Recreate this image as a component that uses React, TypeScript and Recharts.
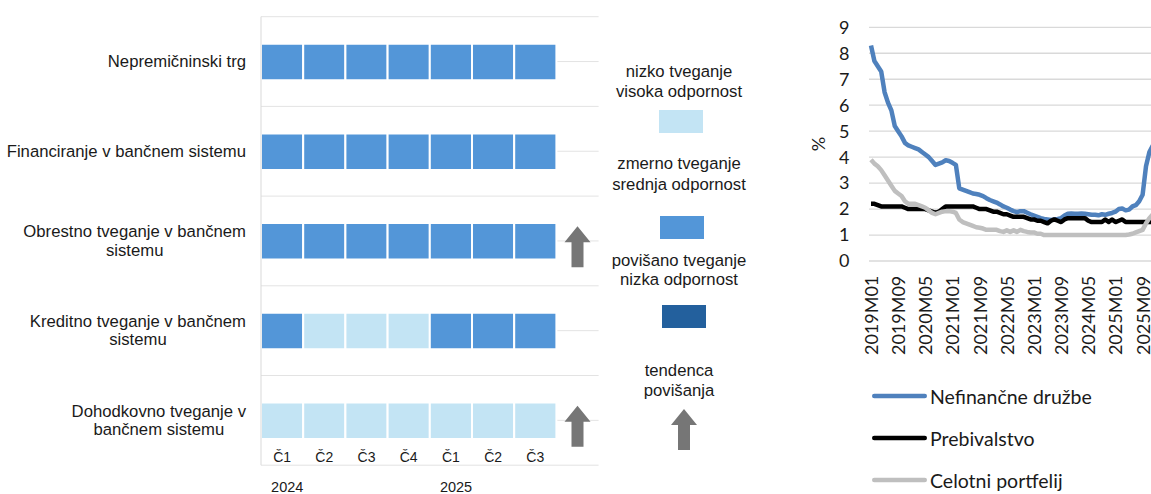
import React from 'react'
import { BarChart, Bar, Cell, XAxis, YAxis, CartesianGrid, Legend, LineChart, Line } from 'recharts'

// ---- heatmap (risk matrix) ----
const rowLabels = [
  'Nepremičninski trg',
  'Financiranje v bančnem sistemu',
  'Obrestno tveganje v bančnem\nsistemu',
  'Kreditno tveganje v bančnem\nsistemu',
  'Dohodkovno tveganje v\nbančnem sistemu',
]
const quarterLabels = ['Č1', 'Č2', 'Č3', 'Č4', 'Č1', 'Č2', 'Č3']
const yearLabels = ['2024', '2025']
const yearStartQuarter = [0, 4]
// 0 = nizko, 1 = zmerno, 2 = povišano tveganje
const riskLevels = [
  [1, 1, 1, 1, 1, 1, 1],
  [1, 1, 1, 1, 1, 1, 1],
  [1, 1, 1, 1, 1, 1, 1],
  [1, 0, 0, 0, 1, 1, 1],
  [0, 0, 0, 0, 0, 0, 0],
]
const risingTrend = [false, false, true, false, true]
const levelLabels = ['nizko tveganje\nvisoka odpornost', 'zmerno tveganje\nsrednja odpornost', 'povišano tveganje\nnizka odpornost']
const trendLabel = 'tendenca\npovišanja'
const levelColors = ['#C3E4F4', '#5396D8', '#23609D']
// half-row grid: a line through every row centre and between rows
const gridTicks = [0, 1, 2, 3, 4, 5, 6, 7, 8, 9, 10]

// ---- line chart ----
const seriesNames = ['Nefinančne družbe', 'Prebivalstvo', 'Celotni portfelij']
const firstYear = 2019
const nonFinancial = [
  8.3, 7.7, 7.5, 7.3, 6.5, 6.1, 5.8, 5.2, 5.0, 4.8, 4.55, 4.45,
  4.4, 4.35, 4.3, 4.2, 4.1, 4.0, 3.85, 3.7, 3.75, 3.8, 3.88, 3.85,
  3.78, 3.7, 2.8, 2.75, 2.7, 2.65, 2.6, 2.58, 2.55, 2.5, 2.42, 2.35,
  2.3, 2.25, 2.18, 2.1, 2.05, 1.98, 1.92, 1.88, 1.92, 1.92, 1.86, 1.8,
  1.75, 1.7, 1.65, 1.62, 1.6, 1.58, 1.6, 1.62, 1.65, 1.75, 1.82, 1.83,
  1.82, 1.82, 1.83, 1.82, 1.8, 1.78, 1.78, 1.76, 1.8, 1.78, 1.82, 1.85,
  1.9, 2.0, 2.02, 1.95, 1.98, 2.1, 2.15, 2.3, 2.55, 3.65, 4.2, 4.45,
]
const households = [
  2.2, 2.2, 2.15, 2.1, 2.1, 2.1, 2.1, 2.1, 2.1, 2.1, 2.05, 2.0,
  2.0, 2.0, 2.0, 2.0, 2.0, 1.95, 1.9, 1.85, 1.9, 2.0, 2.1, 2.1,
  2.1, 2.1, 2.1, 2.1, 2.1, 2.1, 2.1, 2.05, 2.0, 2.0, 2.0, 1.95,
  1.9, 1.9, 1.85, 1.8, 1.8, 1.75, 1.7, 1.7, 1.7, 1.7, 1.65, 1.6,
  1.6, 1.55, 1.55, 1.5, 1.45, 1.55, 1.6, 1.55, 1.5, 1.6, 1.65, 1.65,
  1.65, 1.65, 1.65, 1.65, 1.55, 1.5, 1.5, 1.5, 1.5, 1.6, 1.5, 1.6,
  1.5, 1.55, 1.6, 1.5, 1.5, 1.5, 1.5, 1.5, 1.5, 1.5, 1.5, 1.5,
]
const totalPortfolio = [
  3.9, 3.75, 3.65, 3.5, 3.3, 3.1, 2.9, 2.7, 2.6, 2.5, 2.3, 2.2,
  2.2, 2.2, 2.15, 2.1, 2.05, 1.95, 1.85, 1.8, 1.85, 1.9, 1.92, 1.92,
  1.9, 1.85, 1.6, 1.5, 1.45, 1.4, 1.35, 1.3, 1.28, 1.25, 1.2, 1.2,
  1.2, 1.2, 1.15, 1.12, 1.18, 1.12, 1.18, 1.12, 1.2, 1.15, 1.12, 1.1,
  1.1, 1.05, 1.05, 1.0, 1.0, 1.0, 1.0, 1.0, 1.0, 1.0, 1.0, 1.0,
  1.0, 1.0, 1.0, 1.0, 1.0, 1.0, 1.0, 1.0, 1.0, 1.0, 1.0, 1.0,
  1.0, 1.0, 1.0, 1.0, 1.02, 1.05, 1.1, 1.15, 1.2, 1.45, 1.65, 1.8,
]
const yTicks = [0, 1, 2, 3, 4, 5, 6, 7, 8, 9]

const months = nonFinancial.map((_, i) => `${firstYear + Math.floor(i / 12)}M${String((i % 12) + 1).padStart(2, '0')}`)

const heatData = rowLabels.map((name, r) => {
  const row: Record<string, any> = { name, trend: 1, rising: risingTrend[r] }
  quarterLabels.forEach((_, q) => { row[`q${q}`] = 1 })
  return row
})

const lineData = months.map((month, i) => ({
  month,
  nonFinancial: nonFinancial[i],
  households: households[i],
  totalPortfolio: totalPortfolio[i],
}))

const ARIAL = '"Liberation Sans", Arial, sans-serif'
const CALIBRI = 'Lato, "Open Sans", sans-serif'
const TEXT = '#1A1A1A'
const ARROW = '#767676'
const LABEL_SIZE = 16.7

let ctx: CanvasRenderingContext2D | null = null
function textWidth(s: string, font: string) {
  if (!ctx) ctx = document.createElement('canvas').getContext('2d')
  if (!ctx) return s.length * 8
  ctx.font = font
  return ctx.measureText(s).width
}

function Arrow({ cx, top, bottom }: { cx: number; top: number; bottom: number }) {
  const head = 16
  const pts = [
    [cx, top], [cx + 13, top + head], [cx + 6, top + head], [cx + 6, bottom],
    [cx - 6, bottom], [cx - 6, top + head], [cx - 13, top + head],
  ].map(p => p.join(',')).join(' ')
  return <polygon points={pts} fill={ARROW} />
}

function RowTick({ x, y, payload }: any) {
  const lines = String(payload.value).split('\n')
  const maxW = Math.max(...lines.map(l => textWidth(l, `${LABEL_SIZE}px ${ARIAL}`)))
  const cx = x - maxW / 2
  return (
    <g>
      {lines.map((l, i) => (
        <text key={i} x={cx} y={y + (i - (lines.length - 1) / 2) * 18.3} textAnchor="middle"
          dominantBaseline="central" fontSize={LABEL_SIZE} fontFamily={ARIAL} fill={TEXT}>{l}</text>
      ))}
    </g>
  )
}

function QuarterTick({ x, y, payload }: any) {
  const q = Math.floor(payload.value)
  const yi = yearStartQuarter.indexOf(q)
  return (
    <g>
      <text x={x} y={y - 8.5} textAnchor="middle" dominantBaseline="central" fontSize={14}
        fontFamily={ARIAL} fill={TEXT}>{quarterLabels[q]}</text>
      {yi >= 0 && (
        <text x={x - 11} y={y + 21.5} textAnchor="start" dominantBaseline="central" fontSize={14.5}
          fontFamily={ARIAL} fill={TEXT}>{yearLabels[yi]}</text>
      )}
    </g>
  )
}

function TrendShape(props: any) {
  const { x, y, width, height, payload } = props
  if (!payload?.rising) return <g />
  const mid = y + height / 2
  return <Arrow cx={x + width / 2} top={mid - 15} bottom={mid + 26} />
}

function HeatLegend() {
  const textY = [[21, 41], [113, 134], [210, 229]]
  const boxes = [{ x: 59, y: 60 }, { x: 60, y: 166 }, { x: 62, y: 255 }]
  const cx = 79
  const label = (s: string, ys: number[]) => s.split('\n').map((l, i) => (
    <text key={i} x={cx} y={ys[i]} textAnchor="middle" dominantBaseline="central" fontSize={LABEL_SIZE}
      fontFamily={ARIAL} fill={TEXT}>{l}</text>
  ))
  return (
    <svg width={160} height={410}>
      {levelLabels.map((s, k) => (
        <g key={k}>
          {label(s, textY[k])}
          <rect x={boxes[k].x} y={boxes[k].y} width={44} height={23} fill={levelColors[k]} />
        </g>
      ))}
      {label(trendLabel, [320, 340])}
      <Arrow cx={84} top={359} bottom={400} />
    </svg>
  )
}

function MonthTick({ x, y, payload }: any) {
  const ty = y + 14.7
  return (
    <text x={x} y={ty} transform={`rotate(-90, ${x}, ${ty})`} textAnchor="end" dominantBaseline="central"
      fontSize={18} fontFamily={CALIBRI} fill={TEXT}>{payload.value}</text>
  )
}

function PercentLabel({ viewBox }: any) {
  const x = viewBox.x + 28
  const y = viewBox.y + viewBox.height / 2
  return (
    <text x={x} y={y} transform={`rotate(-90, ${x}, ${y})`} textAnchor="middle" dominantBaseline="central"
      fontSize={18} fontFamily={CALIBRI} fill={TEXT}>%</text>
  )
}

function LineLegend({ payload }: any) {
  const items = [...(payload || [])].sort((a: any, b: any) => seriesNames.indexOf(a.value) - seriesNames.indexOf(b.value))
  return (
    <svg width={270} height={118}>
      {items.map((p: any, i: number) => (
        <g key={p.value}>
          <line x1={2.25} x2={52.75} y1={16 + 42 * i} y2={16 + 42 * i} stroke={p.color} strokeWidth={4.5} strokeLinecap="round" />
          <text x={58} y={16 + 42 * i} dominantBaseline="central" fontSize={19.5} fontFamily={CALIBRI} fill={TEXT}>{p.value}</text>
        </g>
      ))}
    </svg>
  )
}

// grid lines every half row, spread over the plot height
const halfRowLines = ({ offset }: any) =>
  gridTicks.map(t => offset.top + (offset.height * t) / gridTicks[gridTicks.length - 1])

export default function App() {
  return (
    <div style={{ position: 'absolute', left: 0, top: 0, width: 1151, height: 494, overflow: 'hidden', background: '#fff' }}>
      <div style={{ position: 'absolute', left: 0, top: 0 }}>
        <BarChart width={620} height={494} data={heatData} layout="vertical" barCategoryGap={0}
          margin={{ top: 16.7, right: 21.4, bottom: 0, left: 0 }}>
          <CartesianGrid vertical={false} stroke="#E3E3E3" horizontalCoordinatesGenerator={halfRowLines} />
          <XAxis type="number" domain={[0, 8]} ticks={quarterLabels.map((_, q) => q + 0.5)} interval={0}
            tick={<QuarterTick />} axisLine={false} tickLine={false} tickSize={0} tickMargin={0} height={28.8} />
          <YAxis type="category" dataKey="name" width={261} tick={<RowTick />} interval={0}
            tickLine={false} tickSize={0} tickMargin={15} axisLine={{ stroke: '#D9D9D9' }} />
          <Legend layout="vertical" align="center" verticalAlign="middle" content={<HeatLegend />}
            wrapperStyle={{ left: 600, top: 50, width: 160, height: 410 }} />
          {quarterLabels.map((_, q) => (
            <Bar key={q} dataKey={`q${q}`} stackId="h" barSize={36.5} stroke="#fff" strokeWidth={2}
              isAnimationActive={false} legendType="none">
              {riskLevels.map((lv, r) => <Cell key={r} fill={levelColors[lv[q]]} />)}
            </Bar>
          ))}
          <Bar dataKey="trend" stackId="h" barSize={36.5} shape={TrendShape}
            isAnimationActive={false} legendType="none" />
        </BarChart>
      </div>
      <div style={{ position: 'absolute', left: 790, top: 0 }}>
        <LineChart width={370} height={494} data={lineData} margin={{ top: 27.3, right: 5.2, bottom: 0, left: 0 }}>
          <CartesianGrid vertical={false} stroke="#D9D9D9" strokeWidth={1.3} />
          <XAxis dataKey="month" interval={7} tick={<MonthTick />} tickLine={false} axisLine={false}
            tickSize={0} tickMargin={0} height={233} padding={{ left: 2, right: 2 }} />
          <YAxis domain={[0, 9]} ticks={yTicks} interval={0} width={79} axisLine={false} tickLine={false} tickSize={0}
            tickMargin={19.5} tick={{ fill: TEXT, fontSize: 18, fontFamily: CALIBRI }} label={<PercentLabel />} />
          <Legend layout="vertical" align="center" verticalAlign="middle" content={<LineLegend />}
            wrapperStyle={{ left: 82, top: 380, width: 270, height: 118 }} />
          <Line dataKey="nonFinancial" name={seriesNames[0]} stroke="#4F81BD" strokeWidth={4.5} dot={false}
            strokeLinejoin="round" isAnimationActive={false} />
          <Line dataKey="households" name={seriesNames[1]} stroke="#000000" strokeWidth={4.5} dot={false}
            strokeLinejoin="round" isAnimationActive={false} />
          <Line dataKey="totalPortfolio" name={seriesNames[2]} stroke="#BFBFBF" strokeWidth={4.5} dot={false}
            strokeLinejoin="round" isAnimationActive={false} />
        </LineChart>
      </div>
    </div>
  )
}
